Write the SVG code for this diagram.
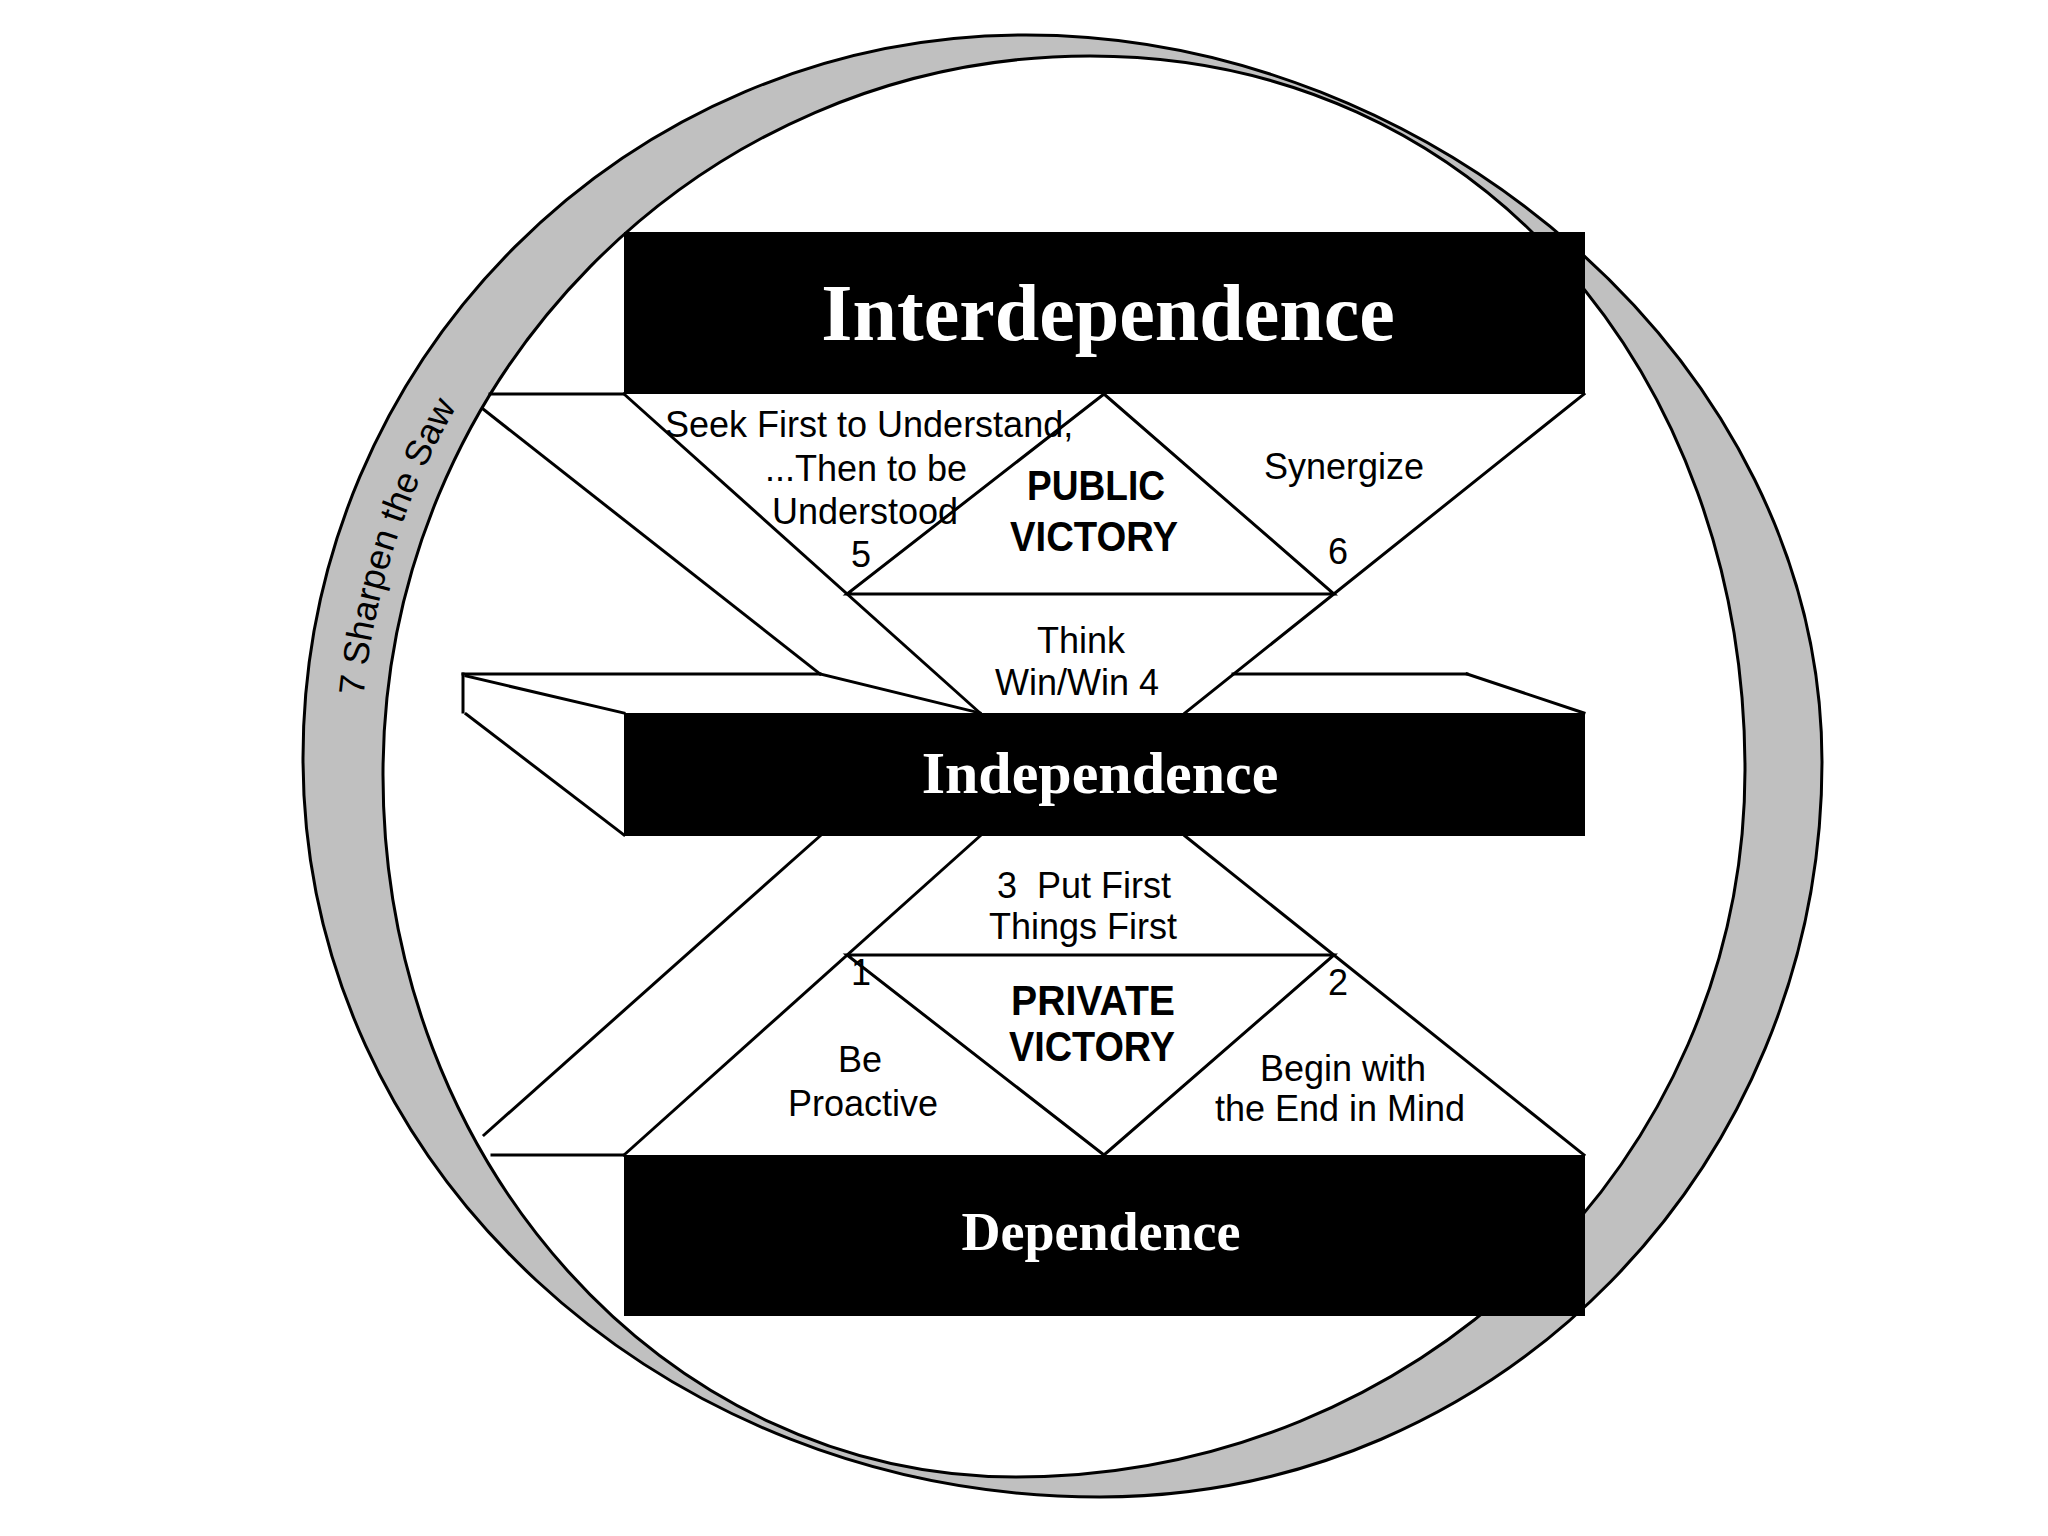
<svg xmlns="http://www.w3.org/2000/svg" width="2048" height="1536" viewBox="0 0 2048 1536">
<defs>
<style>
.ln{stroke:#000;stroke-width:3;fill:none;stroke-linecap:square}
.box{fill:#000}
.ring{fill:#c0c0c0;fill-rule:evenodd;stroke:#000;stroke-width:3}
.title{font-family:"Liberation Serif","Times New Roman",serif;font-weight:bold;fill:#fff;text-anchor:middle}
.lbl{font-family:"Liberation Sans",Arial,sans-serif;font-size:36px;fill:#000}
.mid{text-anchor:middle}
.vic{font-weight:bold;font-size:42px}
</style>
<path id="sawPath" d="M 363.5,696 A 702,710 0 0 1 611,222"/>
</defs>
<rect x="0" y="0" width="2048" height="1536" fill="#fff"/>

<g id="sharpen-the-saw">
<path class="ring" d="M 303,758 C 303,359 627,35 1026,35 C 1430,35 1822,361 1822,762 C 1822,1168 1499,1497 1100,1497 C 660,1497 303,1166 303,758 Z M 383,775 C 383,378 700,56 1090,56 C 1480,56 1745,376 1745,770 C 1745,1160 1419,1477 1016,1477 C 666,1477 383,1163 383,775 Z"/>
<text class="lbl"><textPath href="#sawPath">7 Sharpen the Saw</textPath></text>
</g>

<g id="connectors">
<line class="ln" x1="490" y1="394" x2="624" y2="394"/>
<line class="ln" x1="483" y1="409" x2="820" y2="674"/>
<line class="ln" x1="624" y1="394" x2="980" y2="713"/>
<line class="ln" x1="1584" y1="394" x2="1185" y2="713"/>
<line class="ln" x1="463" y1="674" x2="820" y2="674"/>
<line class="ln" x1="820" y1="674" x2="980" y2="713"/>
<line class="ln" x1="463" y1="674" x2="463" y2="712"/>
<line class="ln" x1="466" y1="676" x2="624" y2="713"/>
<line class="ln" x1="466" y1="714" x2="624" y2="835"/>
<line class="ln" x1="1233" y1="674" x2="1467" y2="674"/>
<line class="ln" x1="1467" y1="674" x2="1584" y2="713"/>
<line class="ln" x1="820" y1="836" x2="484" y2="1135"/>
<line class="ln" x1="980" y1="836" x2="624" y2="1155"/>
<line class="ln" x1="1185" y1="836" x2="1584" y2="1155"/>
<line class="ln" x1="492" y1="1155" x2="624" y2="1155"/>
</g>

<g id="public-victory">
<polygon class="ln" points="1104,394 847,594 1334,594"/>
<text class="lbl vic mid" x="1096" y="500" textLength="138" lengthAdjust="spacingAndGlyphs">PUBLIC</text>
<text class="lbl vic mid" x="1094" y="551" textLength="168" lengthAdjust="spacingAndGlyphs">VICTORY</text>
</g>

<g id="private-victory">
<polygon class="ln" points="847,955 1334,955 1104,1155"/>
<text class="lbl vic mid" x="1093" y="1015" textLength="164" lengthAdjust="spacingAndGlyphs">PRIVATE</text>
<text class="lbl vic mid" x="1092" y="1061" textLength="166" lengthAdjust="spacingAndGlyphs">VICTORY</text>
</g>

<g id="interdependence">
<rect class="box" x="624" y="232" width="961" height="162"/>
<text class="title" x="1108" y="340" font-size="80">Interdependence</text>
</g>

<g id="independence">
<rect class="box" x="624" y="713" width="961" height="123"/>
<text class="title" x="1100" y="793" font-size="60">Independence</text>
</g>

<g id="dependence">
<rect class="box" x="624" y="1155" width="961" height="161"/>
<text class="title" x="1101" y="1250" font-size="54">Dependence</text>
</g>

<g id="habit-5">
<text class="lbl" x="665" y="437">Seek First to Understand,</text>
<text class="lbl mid" x="866" y="481">...Then to be</text>
<text class="lbl mid" x="865" y="524">Understood</text>
<text class="lbl mid" x="861" y="567">5</text>
</g>

<g id="habit-6">
<text class="lbl mid" x="1344" y="479">Synergize</text>
<text class="lbl mid" x="1338" y="564">6</text>
</g>

<g id="habit-4">
<text class="lbl mid" x="1081" y="653">Think</text>
<text class="lbl mid" x="1077" y="695">Win/Win 4</text>
</g>

<g id="habit-3">
<text class="lbl mid" x="1084" y="898" xml:space="preserve">3  Put First</text>
<text class="lbl mid" x="1083" y="939">Things First</text>
</g>

<g id="habit-1">
<text class="lbl mid" x="861" y="985">1</text>
<text class="lbl mid" x="860" y="1072">Be</text>
<text class="lbl mid" x="863" y="1116">Proactive</text>
</g>

<g id="habit-2">
<text class="lbl mid" x="1338" y="995">2</text>
<text class="lbl mid" x="1343" y="1081">Begin with</text>
<text class="lbl mid" x="1340" y="1121">the End in Mind</text>
</g>
</svg>
